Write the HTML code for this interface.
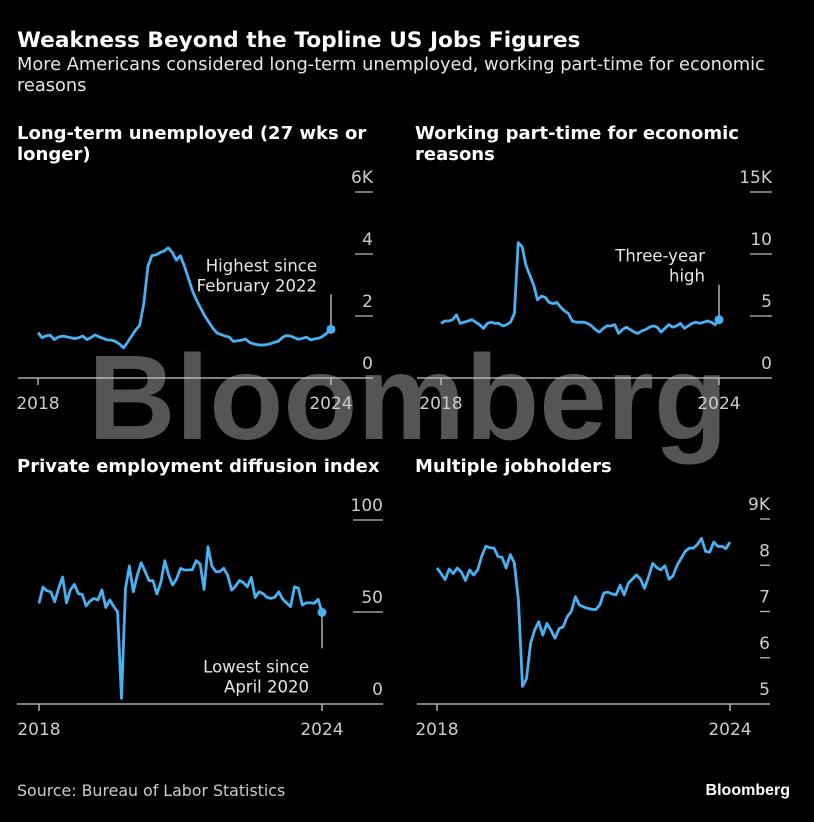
<!DOCTYPE html>
<html><head><meta charset="utf-8">
<style>
html,body{margin:0;padding:0;background:#000;}
body{width:814px;height:817px;overflow:hidden;font-family:"Liberation Sans",sans-serif;}
svg text{font-family:"DejaVu Sans","Liberation Sans",sans-serif;}
</style></head>
<body>
<svg id="chart" width="814" height="817" viewBox="0 0 814 817" xmlns="http://www.w3.org/2000/svg">
<rect width="814" height="817" fill="#000"/>
<text x="88" y="439" fill="#555" font-size="121" font-weight="bold" textLength="640" lengthAdjust="spacingAndGlyphs" style="font-family:'Liberation Sans',sans-serif">Bloomberg</text>
<text x="17" y="47" fill="#fff" font-size="21.7" font-weight="bold">Weakness Beyond the Topline US Jobs Figures</text>
<text x="17" y="70" fill="#e6e6e6" font-size="17.8">More Americans considered long-term unemployed, working part-time for economic</text>
<text x="17" y="91" fill="#e6e6e6" font-size="17.8">reasons</text>
<text x="17" y="139" fill="#fff" font-size="18" font-weight="bold">Long-term unemployed (27 wks or</text>
<text x="17" y="160" fill="#fff" font-size="18" font-weight="bold">longer)</text>
<text x="415" y="139" fill="#fff" font-size="18" font-weight="bold">Working part-time for economic</text>
<text x="415" y="160" fill="#fff" font-size="18" font-weight="bold">reasons</text>
<text x="17" y="472" fill="#fff" font-size="18" font-weight="bold">Private employment diffusion index</text>
<text x="415" y="472" fill="#fff" font-size="18" font-weight="bold">Multiple jobholders</text>
<g id="plots"></g>
<text x="17" y="796" fill="#ccc" font-size="15.8">Source: Bureau of Labor Statistics</text>
<text x="790" y="795" fill="#fff" font-size="16" font-weight="bold" text-anchor="end" style="font-family:'Liberation Sans',sans-serif">Bloomberg</text>
</svg>
<script>
const longTermValues=[1.46,1.30,1.36,1.38,1.24,1.32,1.35,1.33,1.30,1.27,1.30,1.35,1.24,1.30,1.39,1.33,1.28,1.23,1.22,1.18,1.10,0.97,1.15,1.35,1.55,1.70,2.40,3.60,3.95,3.97,4.05,4.10,4.20,4.05,3.80,3.95,3.60,3.20,2.80,2.50,2.25,2.00,1.80,1.60,1.45,1.40,1.35,1.32,1.18,1.20,1.22,1.26,1.15,1.10,1.07,1.06,1.07,1.10,1.15,1.18,1.30,1.37,1.35,1.30,1.25,1.28,1.32,1.23,1.26,1.28,1.35,1.45,1.57];
const partTimeValues=[4.4,4.6,4.6,4.7,5.1,4.4,4.5,4.6,4.7,4.5,4.3,4.0,4.4,4.5,4.4,4.4,4.2,4.3,4.5,5.2,10.9,10.6,9.1,8.3,7.5,6.3,6.6,6.5,6.1,6.0,6.1,5.7,5.4,5.2,4.6,4.5,4.5,4.5,4.4,4.2,3.9,3.7,4.0,4.2,4.2,4.3,3.6,3.9,4.1,3.9,3.7,3.6,3.8,3.9,4.1,4.2,4.1,3.7,4.0,4.3,4.1,4.2,4.4,4.0,4.2,4.4,4.5,4.4,4.5,4.6,4.5,4.3,4.7];
const diffusionValues=[54.7,63.5,61.5,61,55.6,63,69,55,62,65,60,59.6,53.3,56,57.4,56.5,62,52.5,56.5,53,50,3.1,62.8,75,61,70,76.8,72,67,67,59.8,66,77.9,70,64.7,68,73.7,72.8,72.8,73,77.9,76,62.3,85.5,75,71.9,72,73.7,70,61.9,64,67.2,66,63.7,68.8,57.9,61,60,58,57.4,58,61,57,55,52.9,63.7,63,53.8,55,55,54.7,56.9,49.8];
const multipleJobValues=[7.94,7.82,7.69,7.92,7.82,7.94,7.85,7.67,7.9,7.79,7.9,8.2,8.41,8.38,8.37,8.19,8.17,7.94,8.23,8.05,7.25,5.38,5.55,6.31,6.6,6.78,6.49,6.74,6.6,6.42,6.63,6.67,6.89,7.0,7.32,7.14,7.1,7.07,7.05,7.04,7.14,7.4,7.42,7.38,7.36,7.57,7.36,7.61,7.7,7.79,7.7,7.5,7.75,8.04,7.95,7.9,7.99,7.7,7.77,8.0,8.15,8.3,8.37,8.37,8.45,8.58,8.3,8.28,8.5,8.41,8.41,8.36,8.5];
const yearLabels=["2018","2024"];
const yearMonths=[0,72];
const ticks1=[0,2,4,6];const tickLabels1=["0","2","4","6K"];
const ticks2=[0,5,10,15];const tickLabels2=["0","5","10","15K"];
const ticks3=[0,50,100];const tickLabels3=["0","50","100"];
const ticks4=[5,6,7,8,9];const tickLabels4=["5","6","7","8","9K"];
const annot1=["Highest since","February 2022"];
const annot2=["Three-year","high"];
const annot3=["Lowest since","April 2020"];

const NS="http://www.w3.org/2000/svg";
const plots=document.getElementById('plots');
function el(tag,attrs,parent){const e=document.createElementNS(NS,tag);for(const k in attrs)e.setAttribute(k,attrs[k]);(parent||plots).appendChild(e);return e;}

const panels=[
 {id:'panel1',vals:longTermValues,ticks:ticks1,labels:tickLabels1,ymin:0,ymax:6,top:192,bottom:378,x0:38,x1:331,axL:18,axR:373,tickL:355,annot:annot1,annotUp:true,annotX:317},
 {id:'panel2',vals:partTimeValues,ticks:ticks2,labels:tickLabels2,ymin:0,ymax:15,top:192,bottom:378,x0:441,x1:719,axL:417,axR:772,tickL:750,annot:annot2,annotUp:true,annotX:705},
 {id:'panel3',vals:diffusionValues,ticks:ticks3,labels:tickLabels3,ymin:0,ymax:100,top:520,bottom:704,x0:39,x1:322,axL:17,axR:383,tickL:353,annot:annot3,annotUp:false,annotX:309},
 {id:'panel4',vals:multipleJobValues,ticks:ticks4,labels:tickLabels4,ymin:5,ymax:9,top:519,bottom:704,x0:437,x1:730,axL:417,axR:770,tickL:760,annot:null}
];
panels.forEach(p=>{
 const n=p.vals.length-1;
 const xs=i=>p.x0+(p.x1-p.x0)*i/n;
 const ys=v=>p.bottom-(v-p.ymin)/(p.ymax-p.ymin)*(p.bottom-p.top);
 const g=el('g',{});
 
 
 p.ticks.forEach((t,k)=>{
  const y=ys(t);
  if(t!==p.ymin){const l=el('line',{x1:p.tickL,x2:p.axR,y1:y,y2:y,stroke:'#bbb','stroke-width':1.3},g);
   
   }
  const tx=el('text',{x:p.axR,y:y-9,fill:'#ccc','font-size':17,'text-anchor':'end'},g);
  
  
  tx.textContent=p.labels[k];
 });
 const ax=el('line',{x1:p.axL,x2:p.axR,y1:p.bottom,y2:p.bottom,stroke:'#ccc','stroke-width':1.3},g);
 
 
 yearMonths.forEach((m,k)=>{
  const x=xs(m);
  const tk=el('line',{x1:x,x2:x,y1:p.bottom,y2:p.bottom+7,stroke:'#ccc','stroke-width':1.3},g);
  
  
  const tl=el('text',{x:x,y:p.bottom+31,fill:'#ccc','font-size':17,'text-anchor':'middle'},g);
  
  
  tl.textContent=yearLabels[k];
 });
 const d=p.vals.map((v,i)=>(i?'L':'M')+xs(i).toFixed(1)+' '+ys(v).toFixed(1)).join(' ');
 const path=el('path',{d:d,fill:'none',stroke:'#47b1f1','stroke-width':2.8,'stroke-linejoin':'round'},g);
 
 
 if(p.annot){
  const lx=xs(n),ly=ys(p.vals[n]);
  let y1,y2;
  if(p.annotUp){y1=ly-35;y2=ly-4;}else{y1=ly+4;y2=ly+36;}
  const al=el('line',{x1:lx,x2:lx,y1:y1,y2:y2,stroke:'#ccc','stroke-width':1.3},g);
  
  
  const dot=el('circle',{cx:lx,cy:ly,r:4.5,fill:'#47b1f1'},g);
  
  
  const baseY=p.annotUp?y1-35:y2+12;
  p.annot.forEach((s,k)=>{
   const t=el('text',{x:p.annotX,y:baseY+k*20+12,fill:'#e6e6e6','font-size':16.5,'text-anchor':'end'},g);
   
   
   t.textContent=s;
  });
 }
});
</script>
</body></html>
